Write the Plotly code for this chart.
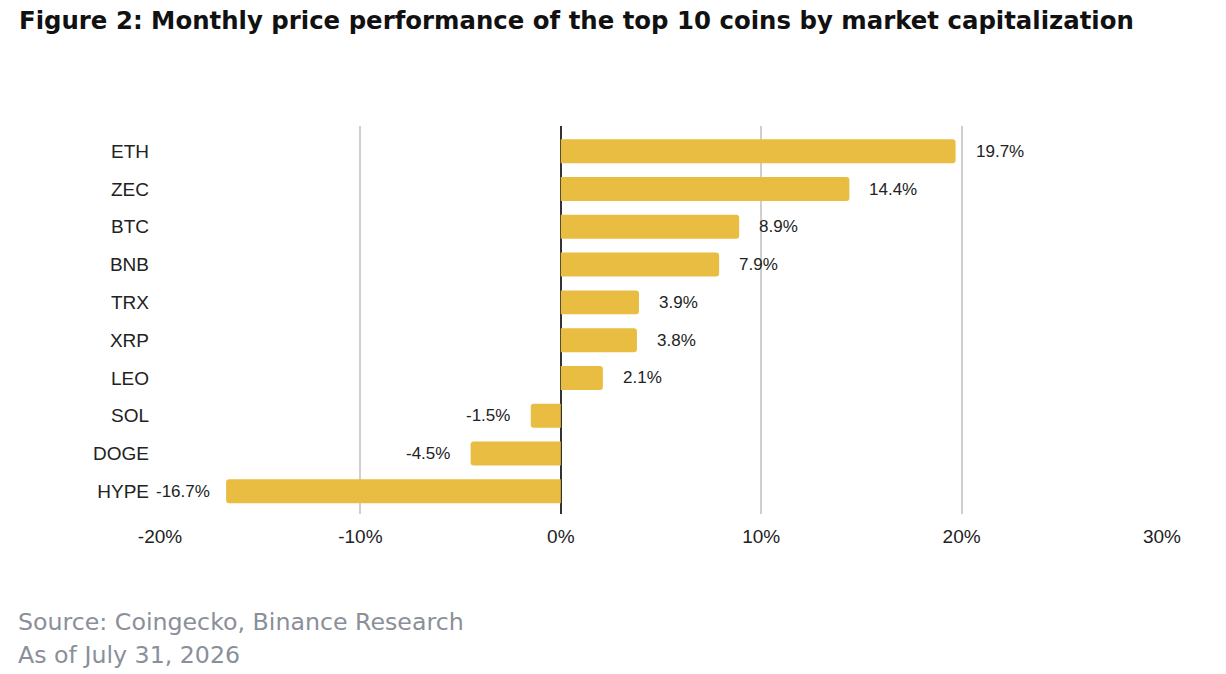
import plotly.graph_objects as go

coins = ["ETH", "ZEC", "BTC", "BNB", "TRX", "XRP", "LEO", "SOL", "DOGE", "HYPE"]
perf = [19.7, 14.4, 8.9, 7.9, 3.9, 3.8, 2.1, -1.5, -4.5, -16.7]
labels = [f"{v:.1f}%" for v in perf]
tick_vals = [-20, -10, 0, 10, 20, 30]
tick_text = ["-20%", "-10%", "0%", "10%", "20%", "30%"]

W, H = 1226, 674
L, R, T, B = 160, 64, 126, 160
PW, PH = W - L - R, H - T - B
XMIN, XMAX = -20, 30

fig = go.Figure(go.Bar(
    x=perf, y=coins, orientation="h",
    marker=dict(color="#E9BC42", line=dict(width=0)),
    cliponaxis=False, hoverinfo="x+y",
))

annotations = []
for c, v, t in zip(coins, perf, labels):
    if v >= 0:
        shift, anchor = 18, "left"
    else:
        bar_left = L + (v - XMIN) / (XMAX - XMIN) * PW
        est_w = len(t) * 9.4
        shift = -min(19, max(4, bar_left - (L - 4) - est_w))
        anchor = "right"
    annotations.append(dict(
        x=v, y=c, xref="x", yref="y", text=t, showarrow=False,
        xanchor=anchor, xshift=shift, yanchor="middle",
        font=dict(family="Liberation Sans, Arial", size=17, color="#222"),
    ))

annotations += [
    dict(text="<b>Figure 2: Monthly price performance of the top 10 coins by market capitalization</b>",
         xref="paper", yref="paper", x=(17 - L) / PW, y=1 + (T - 20) / PH,
         xanchor="left", yanchor="middle", showarrow=False,
         font=dict(family="DejaVu Sans", size=24.4, color="#111")),
    dict(text="Source: Coingecko, Binance Research",
         xref="paper", yref="paper", x=(16 - L) / PW, y=-(622 - (T + PH)) / PH,
         xanchor="left", yanchor="middle", showarrow=False,
         font=dict(family="DejaVu Sans", size=23.7, color="#8a8f99")),
    dict(text="As of July 31, 2026",
         xref="paper", yref="paper", x=(16 - L) / PW, y=-(655 - (T + PH)) / PH,
         xanchor="left", yanchor="middle", showarrow=False,
         font=dict(family="DejaVu Sans", size=23.7, color="#8a8f99")),
]

fig.update_layout(
    width=W, height=H,
    paper_bgcolor="white", plot_bgcolor="white",
    margin=dict(l=L, r=R, t=T, b=B),
    bargap=0.365, barcornerradius=3,
    showlegend=False,
    font=dict(family="Liberation Sans, Arial", size=19, color="#222"),
    xaxis=dict(range=[XMIN, XMAX], tickvals=tick_vals, ticktext=tick_text,
               showgrid=True, gridcolor="#cfcfcf", gridwidth=1.5,
               zeroline=True, zerolinecolor="#333", zerolinewidth=1.5,
               ticks="", showline=False, ticklabelstandoff=9,
               tickfont=dict(size=19, color="#222")),
    yaxis=dict(categoryorder="array", categoryarray=coins[::-1],
               range=[-0.603, len(coins) - 0.33],
               ticks="", showline=False, ticklabelstandoff=10,
               tickfont=dict(size=19, color="#222")),
    annotations=annotations,
)

fig.write_html("out.html", config={"displayModeBar": False},
               post_script="document.body.style.margin='0';document.body.style.overflow='hidden';")
